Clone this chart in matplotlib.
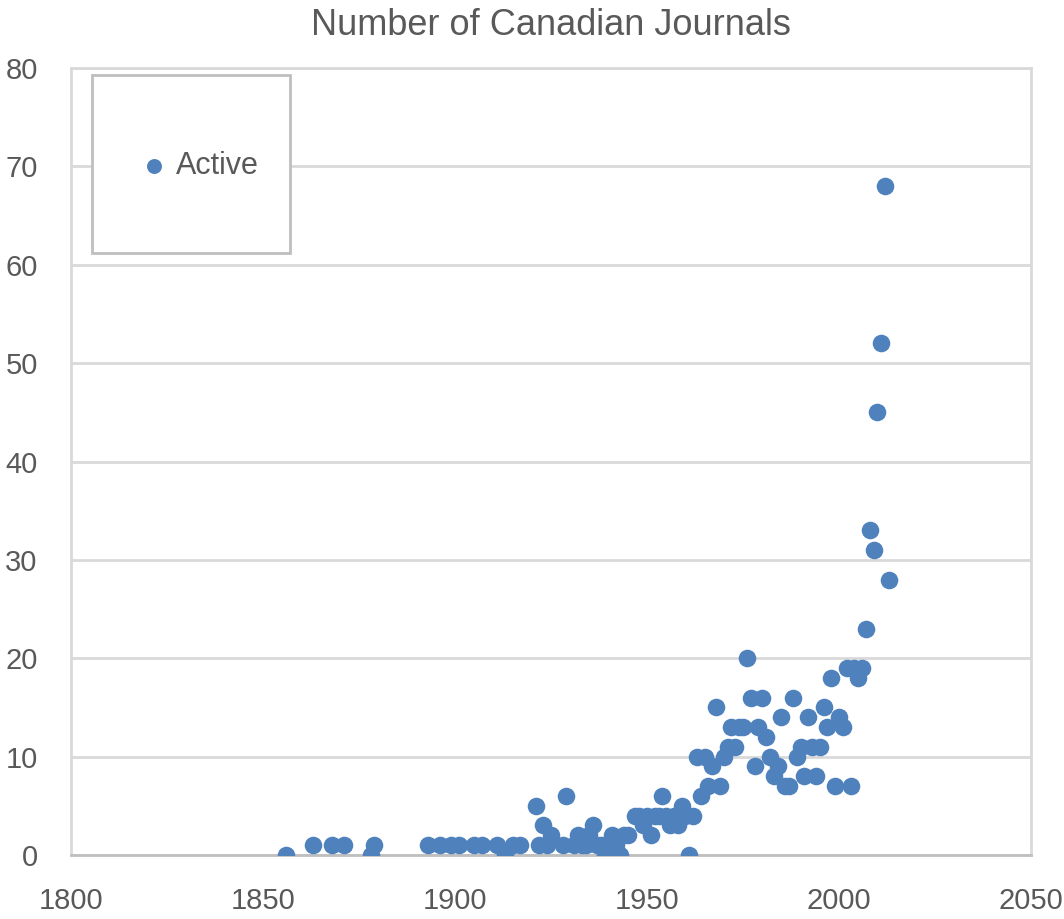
import matplotlib
matplotlib.use("Agg")
import matplotlib.pyplot as plt
from matplotlib.patches import Rectangle

# years and number of active journals started in each year
years = [1856, 1863, 1868, 1871, 1878, 1879, 1893, 1896, 1899, 1901, 1905, 1907,
         1911, 1913, 1915, 1917, 1921, 1922, 1923, 1924, 1925, 1928, 1929, 1931,
         1932, 1933, 1934, 1935, 1936, 1937, 1938, 1939, 1940, 1941, 1942, 1943,
         1944, 1945, 1947, 1948, 1949, 1950, 1951, 1952, 1953, 1954, 1955, 1956,
         1957, 1958, 1959, 1960, 1961, 1962, 1963, 1964, 1965, 1966, 1967, 1968,
         1969, 1970, 1971, 1972, 1973, 1974, 1975, 1976, 1977, 1978, 1979, 1980,
         1981, 1982, 1983, 1984, 1985, 1986, 1987, 1988, 1989, 1990, 1991, 1992,
         1993, 1994, 1995, 1996, 1997, 1998, 1999, 2000, 2001, 2002, 2003, 2004,
         2005, 2006, 2007, 2008, 2009, 2010, 2011, 2012, 2013]
active = [0, 1, 1, 1, 0, 1, 1, 1, 1, 1, 1, 1,
          1, 0, 1, 1, 5, 1, 3, 1, 2, 1, 6, 1,
          2, 1, 1, 2, 3, 1, 1, 0, 1, 2, 1, 0,
          2, 2, 4, 4, 3, 4, 2, 4, 4, 6, 4, 3,
          4, 3, 5, 4, 0, 4, 10, 6, 10, 7, 9, 15,
          7, 10, 11, 13, 11, 13, 13, 20, 16, 9, 13, 16,
          12, 10, 8, 9, 14, 7, 7, 16, 10, 11, 8, 14,
          11, 8, 11, 15, 13, 18, 7, 14, 13, 19, 7, 19,
          18, 19, 23, 33, 31, 45, 52, 68, 28]

x_ticks = [1800, 1850, 1900, 1950, 2000, 2050]
y_ticks = [0, 10, 20, 30, 40, 50, 60, 70, 80]

gray_text = "#595959"
grid_col = "#d9d9d9"
blue = "#4f81bd"

plt.rcParams["font.family"] = ["Liberation Sans Narrow", "Liberation Sans", "DejaVu Sans"]

fig = plt.figure(figsize=(10.64, 9.19), dpi=100)
ax = fig.add_axes([71 / 1064, 1 - 855 / 919, (1031 - 71) / 1064, (855 - 68) / 919])

ax.scatter(years, active, s=160, color=blue, zorder=3, linewidths=0, label="Active")

ax.set_xlim(1800, 2050)
ax.set_ylim(0, 80)
ax.set_xticks(x_ticks)
ax.set_yticks(y_ticks)
ax.tick_params(length=0, labelsize=21, colors=gray_text)
ax.tick_params(axis="y", pad=24)
ax.tick_params(axis="x", pad=23)
ax.grid(axis="y", color=grid_col, linewidth=2)
ax.set_axisbelow(True)
for sp in ax.spines.values():
    sp.set_color(grid_col)
    sp.set_linewidth(2)
ax.spines["bottom"].set_color("#bfbfbf")

ax.set_title("Number of Canadian Journals", fontsize=26, color=gray_text, pad=24)

# legend box
x0 = (92 - 71) / 960
y0 = (855 - 253) / 787
w = (290 - 92) / 960
h = (253 - 75) / 787
ax.add_patch(Rectangle((x0, y0), w, h, transform=ax.transAxes, fill=True,
                       facecolor="white", edgecolor="#bfbfbf", linewidth=2, zorder=4))
leg = ax.legend(loc="center", bbox_to_anchor=(x0 + w / 2, y0 + h / 2 - 0.003),
                frameon=False, fontsize=22, handletextpad=-0.3, markerscale=0.85,
                labelcolor=gray_text)
leg.set_zorder(5)

fig.savefig("out.png", dpi=100)
